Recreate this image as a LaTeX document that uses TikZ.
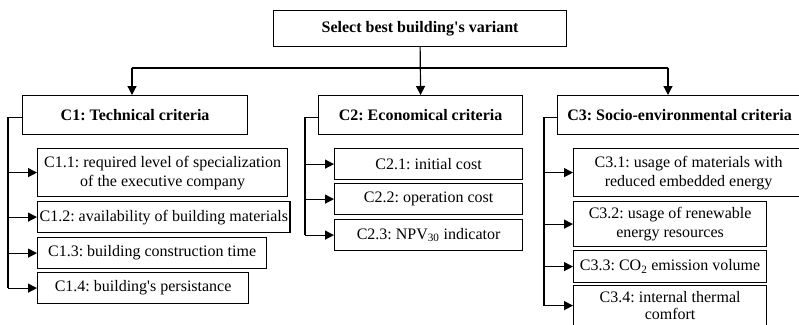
\documentclass[tikz,border=0pt]{standalone}
\usepackage{fontspec}
\setmainfont{Liberation Serif}
\usetikzlibrary{arrows.meta,positioning,calc}
\frenchspacing

\begin{document}
\begin{tikzpicture}[x=1pt,y=-1pt,
		box/.style={draw,line width=1.2pt,anchor=north west,align=center,inner sep=2pt,font=\fontsize{16}{19}\selectfont},
		head/.style={box,font=\fontsize{16}{19}\selectfont\bfseries},
		arr/.style={line width=1.2pt,-{Triangle[length=9pt,width=9pt]}},
		ln/.style={line width=1.2pt}]
		\useasboundingbox (0,0) rectangle (799,324);
		\clip (0,0) rectangle (799,324);
		
		\node[head,minimum width=293pt,minimum height=36pt] (top) at (273,10) {Select best building\textquotesingle s variant};
		\node[head,minimum width=225pt,minimum height=39pt] (c1) at (22,95) {C1: Technical criteria};
		\node[head,minimum width=204pt,minimum height=39pt] (c2) at (318,95) {C2: Economical criteria};
		\node[head,minimum width=244pt,minimum height=39pt] (c3) at (557,95) {C3: Socio-environmental criteria};
		
		\foreach \n/\x/\y/\w/\h/\t in {
			c11/37/148/250/48/{C1.1: required level of specialization\\of the executive company},
			c12/37/201/250/31/{C1.2: availability of building materials},
			c13/37/237/229/31/{C1.3: building construction time},
			c14/37/272/211/31/{C1.4: building\textquotesingle s persistance},
			c21/334/148/188/31/{C2.1: initial cost},
			c22/334/183/188/31/{C2.2: operation cost},
			c23/334/219/188/31/{C2.3: NPV\textsubscript{30} indicator},
			c31/573/148/230/48/{C3.1: usage of materials with\\reduced embedded energy},
			c32/573/201/193/45/{C3.2: usage of renewable\\energy resources},
			c33/573/250/193/32/{C3.3: CO\textsubscript{2} emission volume},
			c34/573/285/193/40/{C3.4: internal thermal\\[-2pt]comfort}}
		\node[box,minimum width=\w pt,minimum height=\h pt] (\n) at (\x,\y) {\t};
		
		% top level
		\coordinate (j1) at (132,68);
		\coordinate (j3) at (668,68);
		\draw[arr] (top.south) -- (c2.north);
		\draw[ln] (j1) -- (j3);
		\draw[arr] (j1) -- (j1 |- c1.north);
		\draw[arr] (j3) -- (j3 |- c3.north);
		
		% sub criteria
		\draw[ln] ($(c1.west)+(0,2)$) -- ++(-14,0) coordinate (f1) -- (f1 |- c14.west);
		\foreach \n in {c11,c12,c13,c14}
		\draw[arr] (f1 |- \n.west) -- (\n.west);
		\draw[ln] ($(c2.west)+(0,2)$) -- ++(-13,0) coordinate (f2) -- (f2 |- c23.west);
		\foreach \n in {c21,c22,c23}
		\draw[arr] (f2 |- \n.west) -- (\n.west);
		\draw[ln] ($(c3.west)+(0,2)$) -- ++(-13,0) coordinate (f3) -- (f3 |- c34.west);
		\foreach \n in {c31,c32,c33,c34}
		\draw[arr] (f3 |- \n.west) -- (\n.west);
	\end{tikzpicture}
\end{document}
